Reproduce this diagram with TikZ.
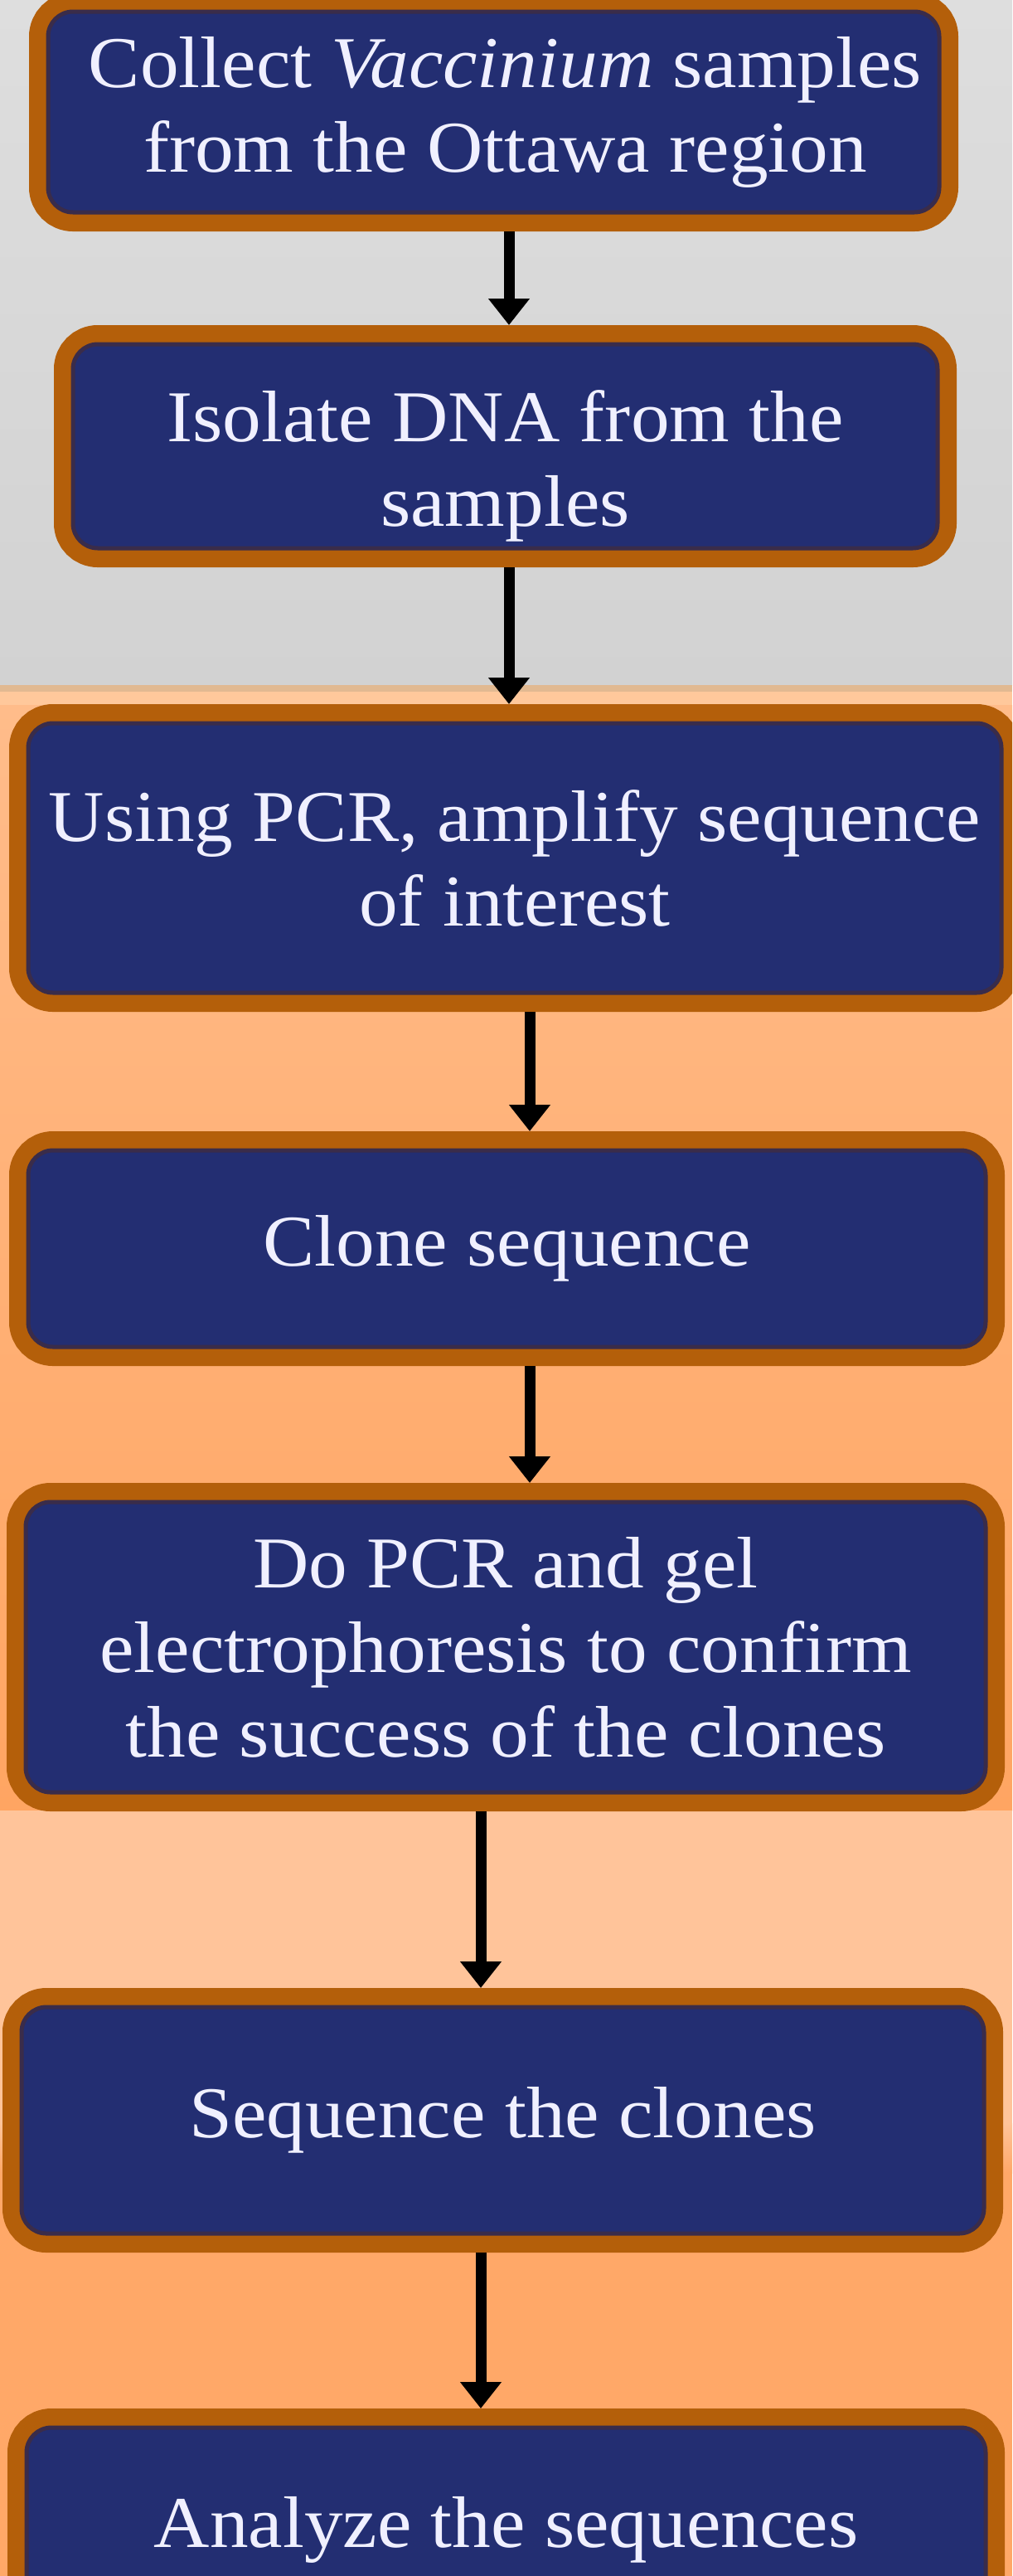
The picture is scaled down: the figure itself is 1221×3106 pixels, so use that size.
\documentclass[tikz,border=0pt]{standalone}
\usepackage{fontspec}
\setmainfont{Liberation Serif}[FakeStretch=1.06]
\usetikzlibrary{arrows.meta,calc}
\definecolor{borderorange}{RGB}{180,95,10}
\definecolor{darkline}{RGB}{58,44,74}
\definecolor{boxblue}{RGB}{35,46,114}
\definecolor{textwhite}{RGB}{240,240,255}
\definecolor{bgA}{RGB}{222,222,222}
\definecolor{bgB}{RGB}{210,210,210}
\definecolor{tanline}{RGB}{225,185,145}
\definecolor{peachA}{RGB}{255,200,155}
\definecolor{peachT}{RGB}{255,188,138}
\definecolor{orangeB}{RGB}{255,165,98}
\definecolor{peachL}{RGB}{255,196,154}
\definecolor{orangeC}{RGB}{255,168,104}
\begin{document}
\begin{tikzpicture}[x=1pt,y=-1pt,
  stepbox/.style={rectangle, rounded corners=30pt, fill=boxblue, draw=darkline,
    line width=5pt, preaction={draw=borderorange, line width=46pt},
    text=textwhite, align=center, font=\fontsize{88}{102}\selectfont,
    outer sep=23pt, inner sep=0pt},
  conn/.style={draw=black, line width=13pt, -{Triangle[width=48pt,length=32pt]}}]
\useasboundingbox (0,0) rectangle (1221,3106);
\begin{scope}
\clip (0,0) rectangle (1221,3106);
% backgrounds
\shade[top color=bgA, bottom color=bgB] (0,0) rectangle (1221,826);
\fill[tanline] (0,826) rectangle (1221,834);
\fill[peachA] (0,834) rectangle (1221,850);
\shade[top color=peachT, bottom color=orangeB] (0,850) rectangle (1221,2183);
\fill[peachL] (0,2183) rectangle (1221,2560);
\shade[top color=peachL, bottom color=orangeC] (0,2560) rectangle (1221,2620);
\fill[orangeC] (0,2620) rectangle (1221,3106);
% boxes
\node[stepbox, minimum width=1075pt, minimum height=242pt] (b1) at (595.5,135)
  {\hspace*{28pt}Collect \textit{Vaccinium} samples\\\hspace*{28pt}from the Ottawa region};
\node[stepbox, minimum width=1043pt, minimum height=246pt] (b2) at (609.5,538)
  {\rule{0pt}{110pt}Isolate DNA from the\\samples};
\node[stepbox, minimum width=1174pt, minimum height=325pt] (b3) at (621,1034.5)
  {Using PCR, amplify sequence\\of interest};
\node[stepbox, minimum width=1155pt, minimum height=237pt] (b4) at (611.5,1505.5)
  {Clone sequence};
\node[stepbox, minimum width=1158pt, minimum height=350pt] (b5) at (610,1986)
  {Do PCR and gel\\electrophoresis to confirm\\the success of the clones};
\node[stepbox, minimum width=1161pt, minimum height=273pt] (b6) at (606.5,2556.5)
  {Sequence the clones};
\node[stepbox, minimum width=1157pt, minimum height=246pt] (b7) at (610.5,3050)
  {Analyze the sequences};
% connectors
\coordinate (x1) at (614,0);
\coordinate (x3) at (639,0);
\coordinate (x5) at (580,0);
\draw[conn] (b1.south -| x1) -- (b2.north -| x1);
\draw[conn] (b2.south -| x1) -- (b3.north -| x1);
\draw[conn] (b3.south -| x3) -- (b4.north -| x3);
\draw[conn] (b4.south -| x3) -- (b5.north -| x3);
\draw[conn] (b5.south -| x5) -- (b6.north -| x5);
\draw[conn] (b6.south -| x5) -- (b7.north -| x5);
\end{scope}
\end{tikzpicture}
\end{document}
